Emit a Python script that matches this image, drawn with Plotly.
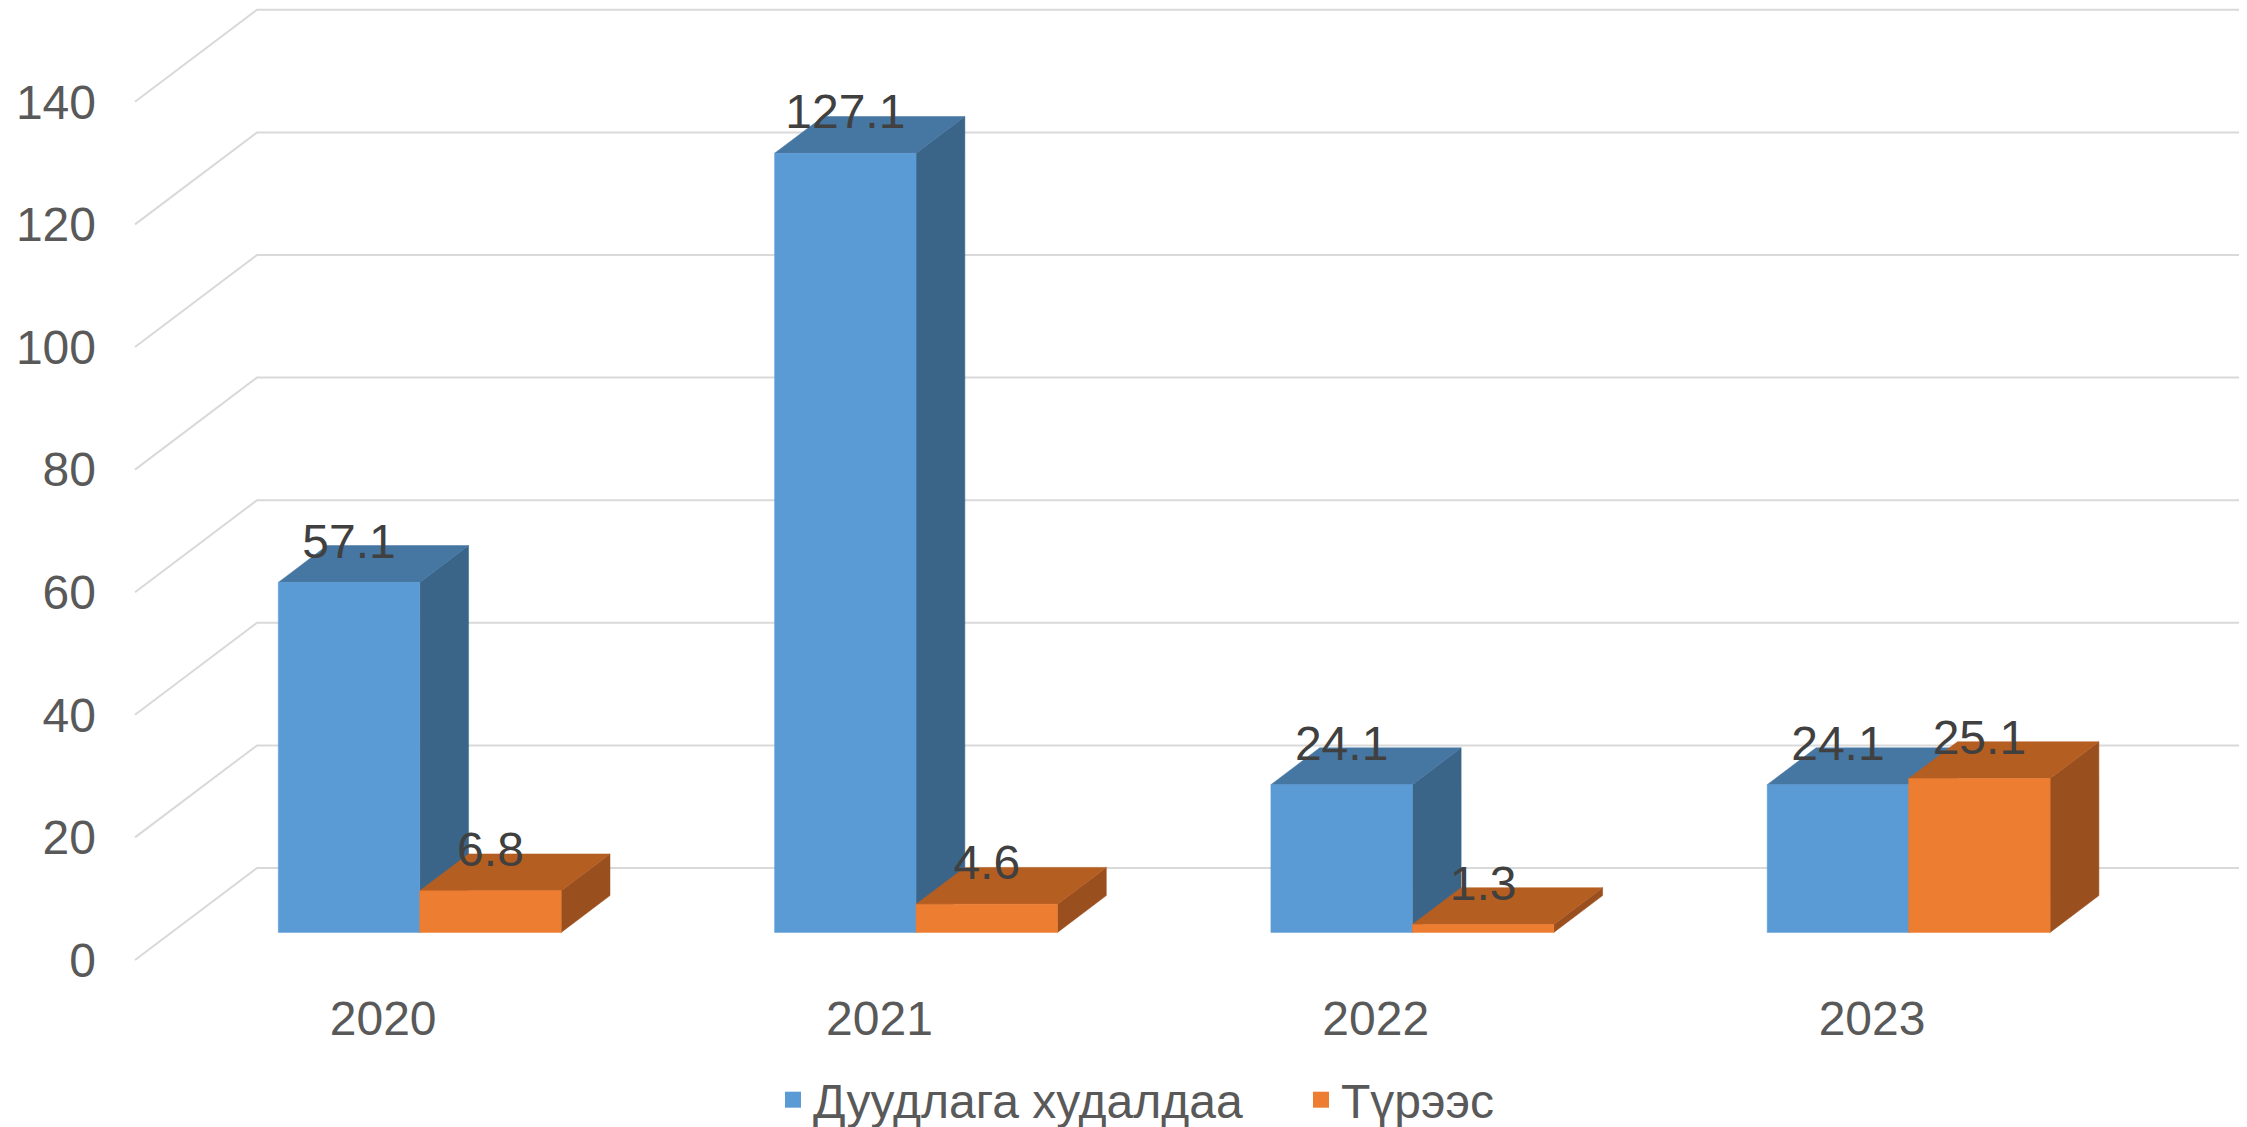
import plotly.graph_objects as go

# ---- data ----
categories = ["2020", "2021", "2022", "2023"]
series_names = ["Дуудлага худалдаа", "Түрээс"]
auction = [57.1, 127.1, 24.1, 24.1]
rent = [6.8, 4.6, 1.3, 25.1]
y_ticks = [0, 20, 40, 60, 80, 100, 120, 140]

# ---- styles ----
FRONT = ["#5B9BD5", "#ED7D31"]
TOP = ["#4676A2", "#B55E22"]
SIDE = ["#3A6588", "#9A4F1E"]
GRID = "#D9D9D9"
FONT = "Liberation Sans, Arial, sans-serif"

# ---- geometry (pseudo 3-D projection) ----
OFF = 8                       # default page body margin
W, H = 2247 - OFF, 1127 - OFF
PX_X = 496.3       # px per category unit
PX_Y = 6.13        # px per value unit
DX = 122 / PX_X    # full depth, x-units
DY = 92 / PX_Y     # full depth, y-units
D0, D1 = 0.3, 0.7  # bar depth span
BW = 0.285         # bar width in category units
ML = 100 - OFF
MR = W - (2243 - OFF)
MT = 0
MB = H - (962 - OFF)
front_left_px = 135 - OFF
zero_px = 960 - OFF
x0 = -(front_left_px - ML) / PX_X
x1 = x0 + (W - ML - MR) / PX_X
y0 = -((H - MB) - zero_px) / PX_Y
y1 = y0 + (H - MB - MT) / PX_Y
n = len(categories)

fig = go.Figure()

# gridlines: diagonal on side wall + horizontal on back wall
gx, gy = [], []
for v in y_ticks:
    gx += [0, DX, n + DX, None]
    gy += [v, v + DY, v + DY, None]
fig.add_trace(go.Scatter(x=gx, y=gy, mode="lines", line=dict(color=GRID, width=2),
                         hoverinfo="skip", showlegend=False))


def poly(xs, ys, color):
    fig.add_trace(go.Scatter(x=xs + [xs[0]], y=ys + [ys[0]], mode="lines", fill="toself",
                             fillcolor=color, line=dict(color=color, width=0.5),
                             hoverinfo="skip", showlegend=False))


label_x, label_y, label_t = [], [], []
for i in range(n):
    for s, vals in enumerate([auction, rent]):
        v = vals[i]
        uL = i + 0.5 - BW + s * BW
        uR = uL + BW
        # side face
        poly([uR + D0 * DX, uR + D1 * DX, uR + D1 * DX, uR + D0 * DX],
             [D0 * DY, D1 * DY, v + D1 * DY, v + D0 * DY], SIDE[s])
        # top face
        poly([uL + D0 * DX, uR + D0 * DX, uR + D1 * DX, uL + D1 * DX],
             [v + D0 * DY, v + D0 * DY, v + D1 * DY, v + D1 * DY], TOP[s])
        # front face
        poly([uL + D0 * DX, uR + D0 * DX, uR + D0 * DX, uL + D0 * DX],
             [D0 * DY, D0 * DY, v + D0 * DY, v + D0 * DY], FRONT[s])
        label_x.append((uL + uR) / 2 + D0 * DX)
        label_y.append(v + D1 * DY)
        label_t.append(f"{v:.1f}")

fig.add_trace(go.Scatter(x=label_x, y=label_y, text=label_t, mode="text",
                         textposition="middle center",
                         textfont=dict(family=FONT, size=48, color="#404040"),
                         hoverinfo="skip", showlegend=False))

# legend entries
for s, name in enumerate(series_names):
    fig.add_trace(go.Scatter(x=[None], y=[None], mode="markers", name=name,
                             marker=dict(symbol="square", size=26, color=FRONT[s])))

fig.update_layout(
    width=W, height=H,
    margin=dict(l=ML, r=MR, t=MT, b=MB, autoexpand=False),
    plot_bgcolor="white", paper_bgcolor="white",
    font=dict(family=FONT, color="#595959"),
    xaxis=dict(range=[x0, x1], tickvals=[i + 0.5 for i in range(n)], ticktext=categories,
               showgrid=False, zeroline=False, showline=False, ticks="", automargin=False,
               tickfont=dict(size=48, color="#595959"), ticklabelstandoff=24),
    yaxis=dict(range=[y0, y1], tickvals=y_ticks, showgrid=False, zeroline=False,
               showline=False, ticks="", automargin=False, ticklabelstandoff=3,
               tickfont=dict(size=48, color="#595959")),
    legend=dict(orientation="h", xref="container", yref="container",
                x=(773 - OFF) / W, xanchor="left", y=1 - (1100 - OFF) / H, yanchor="middle",
                font=dict(size=48, color="#595959"), itemwidth=30, itemsizing="trace",
                entrywidth=483, entrywidthmode="pixels", traceorder="normal"),
    showlegend=True,
)

fig.write_html("out.html")
